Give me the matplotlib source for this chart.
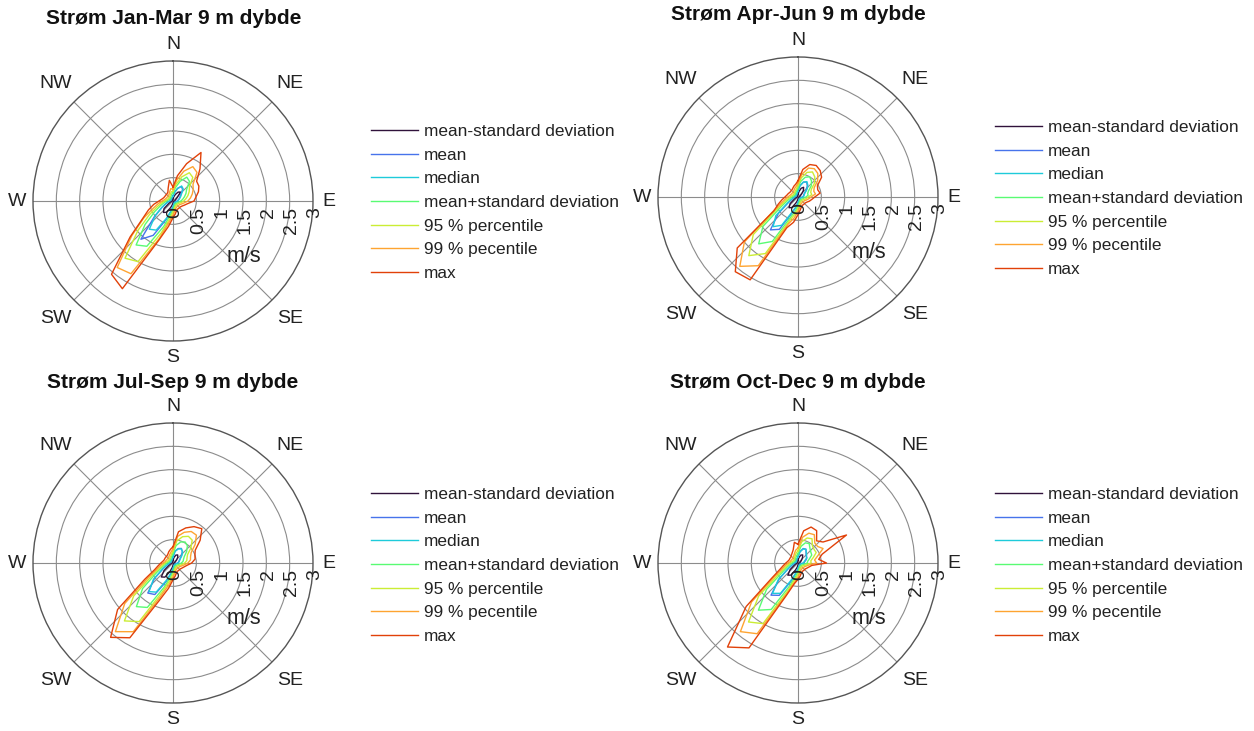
import numpy as np
import matplotlib
matplotlib.use("Agg")
import matplotlib.pyplot as plt
from matplotlib import transforms

plt.rcParams['font.family'] = ['Liberation Sans', 'DejaVu Sans']

# direction bins (degrees, clockwise from north)
dirs = np.arange(0, 360, 10)

labels = ['mean-standard deviation', 'mean', 'median', 'mean+standard deviation',
          '95 % percentile', '99 % pecentile', 'max']

# ---- Jan-Mar
jm_mmsd = [0.05, 0.09, 0.15, 0.22, 0.25, 0.12, 0.07, 0.05, 0.04, 0.03, 0.02, 0.02, 0.02, 0.02, 0.02, 0.02, 0.02, 0.03, 0.04, 0.08, 0.15, 0.28, 0.32, 0.25, 0.10, 0.05, 0.03, 0.02, 0.02, 0.02, 0.02, 0.02, 0.02, 0.02, 0.03, 0.04]
jm_mean = [0.11, 0.19, 0.29, 0.36, 0.32, 0.22, 0.17, 0.14, 0.11, 0.09, 0.07, 0.06, 0.05, 0.05, 0.05, 0.05, 0.06, 0.08, 0.12, 0.21, 0.42, 0.85, 1.07, 0.52, 0.27, 0.16, 0.10, 0.07, 0.06, 0.05, 0.05, 0.05, 0.05, 0.06, 0.07, 0.09]
jm_med = [0.10, 0.18, 0.28, 0.37, 0.34, 0.24, 0.19, 0.15, 0.12, 0.10, 0.08, 0.06, 0.05, 0.05, 0.05, 0.05, 0.06, 0.08, 0.12, 0.20, 0.38, 0.72, 0.79, 0.50, 0.28, 0.17, 0.11, 0.08, 0.06, 0.05, 0.05, 0.05, 0.05, 0.06, 0.07, 0.09]
jm_msd = [0.17, 0.29, 0.45, 0.59, 0.55, 0.38, 0.32, 0.26, 0.21, 0.17, 0.13, 0.11, 0.09, 0.08, 0.08, 0.08, 0.10, 0.13, 0.19, 0.30, 0.58, 1.12, 1.23, 0.78, 0.45, 0.28, 0.19, 0.14, 0.11, 0.09, 0.08, 0.08, 0.08, 0.10, 0.12, 0.15]
jm_p95 = [0.21, 0.36, 0.55, 0.70, 0.66, 0.46, 0.40, 0.34, 0.28, 0.23, 0.18, 0.14, 0.12, 0.11, 0.11, 0.11, 0.13, 0.17, 0.24, 0.38, 0.72, 1.50, 1.60, 0.98, 0.58, 0.36, 0.25, 0.18, 0.14, 0.12, 0.11, 0.11, 0.11, 0.13, 0.16, 0.20]
jm_p99 = [0.25, 0.45, 0.68, 0.85, 0.80, 0.56, 0.50, 0.44, 0.38, 0.32, 0.24, 0.19, 0.16, 0.15, 0.15, 0.15, 0.17, 0.22, 0.30, 0.45, 0.85, 1.80, 1.86, 1.15, 0.72, 0.45, 0.32, 0.23, 0.18, 0.16, 0.15, 0.15, 0.15, 0.17, 0.21, 0.27]
jm_max = [0.30, 0.55, 0.85, 1.20, 0.90, 0.66, 0.64, 0.58, 0.50, 0.45, 0.32, 0.26, 0.22, 0.20, 0.20, 0.20, 0.22, 0.28, 0.36, 0.55, 0.90, 2.17, 2.05, 1.20, 0.75, 0.56, 0.42, 0.30, 0.24, 0.21, 0.20, 0.20, 0.20, 0.22, 0.30, 0.45]

# ---- Apr-Jun
aj_mmsd = [0.06, 0.12, 0.20, 0.24, 0.18, 0.10, 0.06, 0.04, 0.04, 0.03, 0.02, 0.02, 0.02, 0.02, 0.02, 0.02, 0.02, 0.03, 0.04, 0.08, 0.14, 0.26, 0.30, 0.22, 0.09, 0.05, 0.03, 0.02, 0.02, 0.02, 0.02, 0.02, 0.02, 0.02, 0.03, 0.04]
aj_mean = [0.14, 0.25, 0.34, 0.37, 0.31, 0.23, 0.16, 0.13, 0.12, 0.09, 0.07, 0.06, 0.05, 0.05, 0.05, 0.05, 0.06, 0.08, 0.12, 0.21, 0.36, 0.80, 0.92, 0.55, 0.24, 0.14, 0.09, 0.07, 0.06, 0.05, 0.05, 0.05, 0.05, 0.06, 0.07, 0.09]
aj_med = [0.13, 0.24, 0.34, 0.38, 0.33, 0.25, 0.17, 0.14, 0.13, 0.10, 0.08, 0.06, 0.05, 0.05, 0.05, 0.05, 0.06, 0.08, 0.12, 0.20, 0.32, 0.70, 0.83, 0.62, 0.26, 0.15, 0.10, 0.08, 0.06, 0.05, 0.05, 0.05, 0.05, 0.06, 0.07, 0.09]
aj_msd = [0.20, 0.34, 0.45, 0.50, 0.45, 0.37, 0.26, 0.22, 0.22, 0.17, 0.13, 0.11, 0.09, 0.08, 0.08, 0.08, 0.10, 0.13, 0.19, 0.30, 0.46, 1.10, 1.31, 0.98, 0.42, 0.25, 0.17, 0.13, 0.10, 0.09, 0.08, 0.08, 0.08, 0.10, 0.12, 0.14]
aj_p95 = [0.25, 0.42, 0.56, 0.62, 0.56, 0.46, 0.33, 0.29, 0.30, 0.22, 0.18, 0.15, 0.12, 0.11, 0.11, 0.11, 0.13, 0.17, 0.24, 0.37, 0.55, 1.40, 1.64, 1.25, 0.52, 0.31, 0.22, 0.17, 0.14, 0.12, 0.11, 0.11, 0.11, 0.13, 0.15, 0.18]
aj_p99 = [0.30, 0.50, 0.66, 0.70, 0.66, 0.55, 0.40, 0.36, 0.38, 0.28, 0.23, 0.19, 0.16, 0.15, 0.15, 0.15, 0.17, 0.22, 0.30, 0.45, 0.62, 1.70, 1.94, 1.50, 0.62, 0.38, 0.28, 0.22, 0.18, 0.16, 0.15, 0.15, 0.15, 0.17, 0.20, 0.23]
aj_max = [0.35, 0.60, 0.74, 0.78, 0.74, 0.66, 0.48, 0.45, 0.48, 0.36, 0.30, 0.26, 0.22, 0.20, 0.20, 0.20, 0.22, 0.28, 0.38, 0.55, 0.70, 2.05, 2.09, 1.70, 0.60, 0.45, 0.35, 0.28, 0.24, 0.22, 0.20, 0.20, 0.20, 0.22, 0.25, 0.28]

# ---- Jul-Sep
js_mmsd = [0.06, 0.12, 0.18, 0.20, 0.16, 0.10, 0.06, 0.04, 0.04, 0.03, 0.02, 0.02, 0.02, 0.02, 0.02, 0.02, 0.02, 0.03, 0.05, 0.10, 0.20, 0.35, 0.39, 0.25, 0.10, 0.05, 0.03, 0.02, 0.02, 0.02, 0.02, 0.02, 0.02, 0.02, 0.03, 0.04]
js_mean = [0.13, 0.26, 0.33, 0.36, 0.31, 0.23, 0.17, 0.14, 0.12, 0.10, 0.07, 0.06, 0.05, 0.05, 0.05, 0.05, 0.06, 0.08, 0.12, 0.22, 0.42, 0.78, 0.84, 0.52, 0.25, 0.14, 0.09, 0.07, 0.06, 0.05, 0.05, 0.05, 0.05, 0.06, 0.07, 0.09]
js_med = [0.13, 0.25, 0.32, 0.35, 0.32, 0.25, 0.18, 0.15, 0.13, 0.11, 0.08, 0.06, 0.05, 0.05, 0.05, 0.05, 0.06, 0.08, 0.12, 0.21, 0.38, 0.72, 0.80, 0.55, 0.26, 0.15, 0.10, 0.08, 0.06, 0.05, 0.05, 0.05, 0.05, 0.06, 0.07, 0.09]
js_msd = [0.20, 0.38, 0.48, 0.52, 0.48, 0.38, 0.28, 0.24, 0.22, 0.18, 0.14, 0.11, 0.09, 0.08, 0.08, 0.08, 0.10, 0.13, 0.19, 0.31, 0.55, 1.10, 1.22, 0.85, 0.40, 0.24, 0.17, 0.13, 0.10, 0.09, 0.08, 0.08, 0.08, 0.10, 0.12, 0.15]
js_p95 = [0.25, 0.48, 0.60, 0.66, 0.64, 0.50, 0.36, 0.32, 0.30, 0.25, 0.19, 0.15, 0.12, 0.11, 0.11, 0.11, 0.13, 0.17, 0.24, 0.38, 0.65, 1.45, 1.62, 1.10, 0.50, 0.30, 0.22, 0.17, 0.14, 0.12, 0.11, 0.11, 0.11, 0.13, 0.15, 0.19]
js_p99 = [0.30, 0.58, 0.70, 0.78, 0.78, 0.62, 0.45, 0.40, 0.38, 0.32, 0.24, 0.19, 0.16, 0.15, 0.15, 0.15, 0.17, 0.22, 0.30, 0.46, 0.75, 1.70, 1.92, 1.35, 0.60, 0.36, 0.27, 0.21, 0.17, 0.16, 0.15, 0.15, 0.15, 0.17, 0.20, 0.24]
js_max = [0.35, 0.68, 0.80, 0.90, 0.96, 0.76, 0.55, 0.50, 0.48, 0.40, 0.30, 0.25, 0.22, 0.20, 0.20, 0.20, 0.22, 0.28, 0.36, 0.55, 0.85, 1.85, 2.08, 1.55, 0.70, 0.42, 0.32, 0.26, 0.22, 0.20, 0.20, 0.20, 0.20, 0.22, 0.26, 0.30]

# ---- Oct-Dec
od_mmsd = [0.06, 0.12, 0.18, 0.20, 0.15, 0.10, 0.07, 0.05, 0.04, 0.03, 0.02, 0.02, 0.02, 0.02, 0.02, 0.02, 0.02, 0.03, 0.04, 0.09, 0.16, 0.30, 0.34, 0.22, 0.09, 0.05, 0.03, 0.02, 0.02, 0.02, 0.02, 0.02, 0.02, 0.02, 0.03, 0.04]
od_mean = [0.14, 0.25, 0.33, 0.34, 0.27, 0.23, 0.22, 0.18, 0.14, 0.13, 0.07, 0.06, 0.05, 0.05, 0.05, 0.05, 0.06, 0.08, 0.12, 0.20, 0.40, 0.80, 0.90, 0.52, 0.24, 0.14, 0.09, 0.07, 0.06, 0.05, 0.05, 0.05, 0.05, 0.06, 0.08, 0.10]
od_med = [0.13, 0.24, 0.32, 0.34, 0.28, 0.24, 0.21, 0.16, 0.13, 0.12, 0.08, 0.06, 0.05, 0.05, 0.05, 0.05, 0.06, 0.08, 0.12, 0.19, 0.36, 0.75, 0.85, 0.55, 0.25, 0.15, 0.10, 0.08, 0.06, 0.05, 0.05, 0.05, 0.05, 0.06, 0.08, 0.10]
od_msd = [0.20, 0.36, 0.46, 0.48, 0.40, 0.36, 0.34, 0.26, 0.21, 0.20, 0.14, 0.11, 0.09, 0.08, 0.08, 0.08, 0.10, 0.13, 0.19, 0.29, 0.52, 1.15, 1.32, 0.88, 0.38, 0.24, 0.17, 0.13, 0.10, 0.09, 0.08, 0.08, 0.09, 0.10, 0.13, 0.16]
od_p95 = [0.26, 0.46, 0.57, 0.60, 0.48, 0.45, 0.45, 0.35, 0.28, 0.28, 0.19, 0.15, 0.12, 0.11, 0.11, 0.11, 0.13, 0.17, 0.24, 0.35, 0.62, 1.50, 1.65, 1.10, 0.48, 0.30, 0.22, 0.17, 0.14, 0.12, 0.11, 0.11, 0.12, 0.14, 0.17, 0.22]
od_p99 = [0.32, 0.56, 0.68, 0.70, 0.56, 0.55, 0.62, 0.45, 0.36, 0.40, 0.24, 0.19, 0.16, 0.15, 0.15, 0.15, 0.17, 0.22, 0.30, 0.42, 0.70, 1.75, 1.92, 1.30, 0.58, 0.36, 0.27, 0.21, 0.17, 0.16, 0.15, 0.15, 0.16, 0.18, 0.22, 0.28]
od_max = [0.40, 0.70, 0.82, 0.80, 0.62, 0.70, 1.20, 0.55, 0.45, 0.61, 0.30, 0.25, 0.22, 0.20, 0.20, 0.20, 0.22, 0.28, 0.35, 0.45, 0.75, 2.10, 2.35, 1.45, 0.65, 0.42, 0.32, 0.26, 0.22, 0.20, 0.20, 0.20, 0.22, 0.25, 0.30, 0.45]

seasons = [
    ('Strøm Jan-Mar 9 m dybde', [jm_mmsd, jm_mean, jm_med, jm_msd, jm_p95, jm_p99, jm_max]),
    ('Strøm Apr-Jun 9 m dybde', [aj_mmsd, aj_mean, aj_med, aj_msd, aj_p95, aj_p99, aj_max]),
    ('Strøm Jul-Sep 9 m dybde', [js_mmsd, js_mean, js_med, js_msd, js_p95, js_p99, js_max]),
    ('Strøm Oct-Dec 9 m dybde', [od_mmsd, od_mean, od_med, od_msd, od_p95, od_p99, od_max]),
]

W, H = 1254, 731
fig = plt.figure(figsize=(W / 100, H / 100), dpi=100)

colors = plt.cm.turbo(np.linspace(0.0, 0.84, 7))
rad = 140
# polar centres (px), legend top-left corner (px), title centre (px)
centres = [(173, 201), (798, 197), (173, 563), (798, 563)]
legpos = [(371, 124), (995, 120), (371, 487), (995, 487)]
titlepos = [(174, 18), (798, 15), (173, 382), (798, 382)]

compass = ['N', 'NE', 'E', 'SE', 'S', 'SW', 'W', 'NW']
theta_closed = np.deg2rad(np.append(dirs, dirs[0]))

for k, (title, series) in enumerate(seasons):
    cx, cy = centres[k]
    ax = fig.add_axes([(cx - rad) / W, 1 - (cy + rad) / H, 2 * rad / W, 2 * rad / H],
                      projection='polar')
    ax.set_theta_zero_location('N')
    ax.set_theta_direction(-1)
    ax.set_ylim(0, 3)
    ax.set_yticks([0.5, 1, 1.5, 2, 2.5])
    ax.set_yticklabels([])
    ax.set_xticks(np.deg2rad(np.arange(0, 360, 45)))
    ax.set_xticklabels([])
    ax.grid(True, color='#8c8c8c', linewidth=0.8)
    ax.spines['polar'].set_color('#555555')
    ax.spines['polar'].set_linewidth(1.0)
    ax.tick_params(length=0)

    lines = []
    for vals, c in zip(series, colors):
        ln, = ax.plot(theta_closed, np.append(vals, vals[0]), color=c, linewidth=1.0)
        lines.append(ln)

    # compass labels
    for i, lab in enumerate(compass):
        r = 3.35 if i % 2 == 0 else 3.55
        ax.text(np.deg2rad(45 * i), r, lab, ha='center', va='center',
                fontsize=14, color='#222222', clip_on=False)

    # radial tick labels, rotated, just below the east axis
    off = transforms.offset_copy(ax.transData, fig=fig, x=2, y=-6, units='dots')
    for rv, rl in zip([0, 0.5, 1, 1.5, 2, 2.5, 3], ['0', '0.5', '1', '1.5', '2', '2.5', '3']):
        ax.text(np.pi / 2, rv, rl, rotation=90, ha='center', va='top',
                fontsize=14, color='#222222', transform=off, clip_on=False)
    ax.text(np.deg2rad(128), 1.92, 'm/s', ha='center', va='center',
            fontsize=15.5, color='#222222')

    tx, ty = titlepos[k]
    fig.text(tx / W, 1 - ty / H, title, ha='center', va='center',
             fontsize=15, fontweight='bold', color='#111111')

    lx, ly = legpos[k]
    ax.legend(lines, labels, loc='upper left', bbox_to_anchor=(lx / W, 1 - ly / H),
              bbox_transform=fig.transFigure, frameon=False, fontsize=12.4,
              handlelength=2.75, handletextpad=0.3, labelspacing=0.5,
              borderpad=0, borderaxespad=0, labelcolor='#222222')

fig.savefig('out.png', dpi=100, facecolor='white')
